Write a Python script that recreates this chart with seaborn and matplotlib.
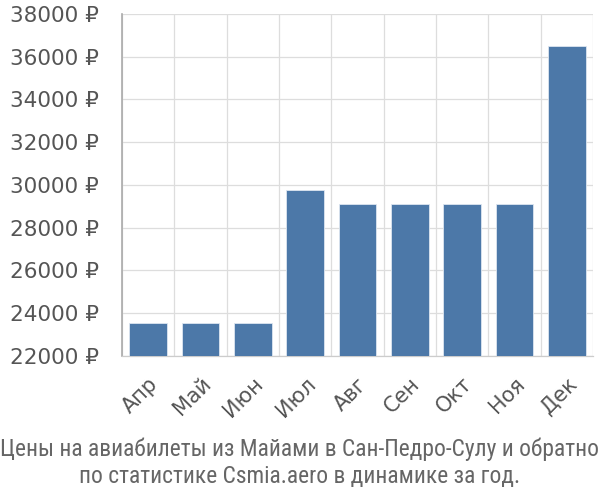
import matplotlib
matplotlib.use("Agg")
import matplotlib.pyplot as plt
import seaborn as sns
import pandas as pd
from matplotlib.ticker import FixedLocator

months = ["Апр", "Май", "Июн", "Июл", "Авг", "Сен", "Окт", "Ноя", "Дек"]
prices = [23550, 23550, 23550, 29750, 29100, 29100, 29100, 29100, 36500]
yticks = [22000, 24000, 26000, 28000, 30000, 32000, 34000, 36000, 38000]
title_lines = ["Цены на авиабилеты из Майами в Сан-Педро-Сулу и обратно",
               "по статистике Csmia.aero в динамике за год."]

df = pd.DataFrame({"month": months, "price": prices})

sns.set_theme(style="white")
FAM = ["DejaVu Sans"]
NARROW = ["Roboto Condensed", "DejaVu Sans"]
plt.rcParams["font.family"] = FAM

fig = plt.figure(figsize=(6, 5), dpi=100)
ax = fig.add_axes([0.2033, 0.2886, 0.785, 0.6834])

sns.barplot(data=df, x="month", y="price", color="#4c78a8", saturation=1,
            width=0.72, edgecolor="#dde6f0", linewidth=0.6, ax=ax, zorder=3)

grid_c = "#dddddd"
ax.set_ylim(22000, 38000)
ax.set_xlim(-0.5, len(months) - 0.5)
ax.set_yticks(yticks)
ax.set_yticklabels([f"{v} ₽" for v in yticks], family=FAM, fontsize=15.5, color="#555555")
ax.set_xticks(range(len(months)))
ax.set_xticklabels(months, family=FAM, fontsize=15, color="#555555",
                   rotation=45, ha="right", rotation_mode="anchor")
ax.xaxis.set_minor_locator(FixedLocator([i - 0.5 for i in range(len(months) + 1)]))
ax.grid(True, axis="y", color=grid_c, linewidth=0.9, zorder=0)
ax.grid(True, axis="x", which="minor", color=grid_c, linewidth=0.9, zorder=0)
ax.tick_params(axis="x", which="minor", length=16, color=grid_c, width=0.9)
ax.tick_params(axis="x", which="major", length=0, pad=13)
ax.tick_params(axis="y", length=16, color=grid_c, width=0.9, pad=0.5)

ax.set_xlabel("")
ax.set_ylabel("")
for s in ["top", "right"]:
    ax.spines[s].set_visible(False)
ax.spines["left"].set_color("#aaaaaa")
ax.spines["left"].set_linewidth(1.2)
ax.spines["bottom"].set_color("#cccccc")
ax.spines["bottom"].set_linewidth(0.9)

fig.text(0.5, 0.088, title_lines[0], ha="center", va="baseline", fontsize=16.9,
         color="#666666", family=NARROW)
fig.text(0.5, 0.034, title_lines[1], ha="center", va="baseline", fontsize=16.9,
         color="#666666", family=NARROW)

fig.savefig("out.png", dpi=100)
